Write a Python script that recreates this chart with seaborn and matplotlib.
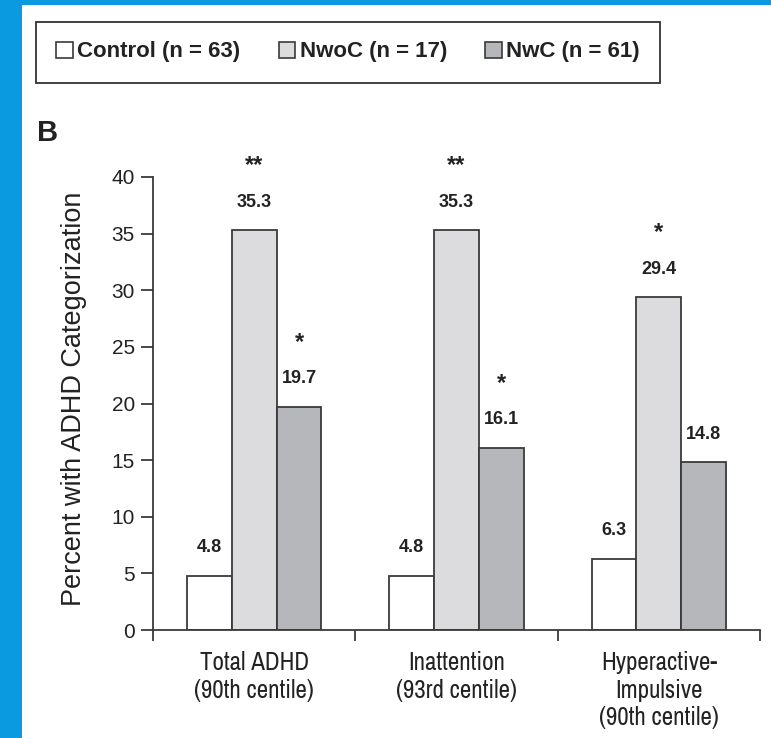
import numpy as np
import pandas as pd
import matplotlib
matplotlib.use('Agg')
import matplotlib.pyplot as plt
import seaborn as sns
from matplotlib.patches import Patch, Rectangle

categories = ['Total ADHD\n(90th centile)', 'Inattention\n(93rd centile)',
              'Hyperactive-\nImpulsive\n(90th centile)']
groups = ['Control (n = 63)', 'NwoC (n = 17)', 'NwC (n = 61)']
control = [4.8, 4.8, 6.3]
nwoc = [35.3, 35.3, 29.4]
nwc = [19.7, 16.1, 14.8]
stars_control = ['', '', '']
stars_nwoc = ['**', '**', '*']
stars_nwc = ['*', '*', '']
yticks = [0, 5, 10, 15, 20, 25, 30, 35, 40]

colors = ['#ffffff', '#dcdcdf', '#b6b7ba']
edge = '#3a3a3a'
ink = '#222222'

df = pd.DataFrame({
    'category': categories * 3,
    'group': [groups[0]] * 3 + [groups[1]] * 3 + [groups[2]] * 3,
    'value': control + nwoc + nwc,
})

sns.set_theme(style='ticks')
narrow = ['Archivo Narrow', 'Liberation Sans', 'DejaVu Sans']
plt.rcParams['font.family'] = ['Liberation Sans', 'DejaVu Sans']

fig = plt.figure(figsize=(7.71, 7.38), dpi=100)
fig.patch.set_facecolor('#0a9ae0')
# white page inside the blue frame
fig.patches.append(Rectangle((22 / 771, 0), 1, 1 - 5 / 738, transform=fig.transFigure,
                             facecolor='white', edgecolor='none', zorder=-1))

ax = fig.add_axes([153 / 771, 1 - 630 / 738, (760 - 153) / 771, (630 - 177) / 738])
ax.set_facecolor('white')

sns.barplot(data=df, x='category', y='value', hue='group', palette=colors,
            saturation=1, width=0.665, gap=0, edgecolor=edge, linewidth=1.3,
            legend=False, ax=ax)

# values and significance stars above the bars
for cont, labs in zip(ax.containers, [stars_control, stars_nwoc, stars_nwc]):
    ax.bar_label(cont, fmt='%.1f', padding=14, fontsize=13, fontweight='bold',
                 color=ink)
    ax.bar_label(cont, labels=labs, padding=38, fontsize=17, fontweight='bold',
                 color=ink)

ax.set_ylim(0, 40)
ax.set_xlim(-0.5, 2.5)
ax.set_yticks(yticks)
ax.set_yticklabels([str(t) for t in yticks], fontsize=15, color=ink)
ax.set_xticks(range(3))
ax.set_xticklabels(categories, fontsize=18, family=narrow, color=ink, linespacing=1.25)
ax.set_xticks([-0.5, 0.5, 1.5, 2.5], minor=True)
ax.tick_params(axis='x', which='major', length=0, pad=15)
ax.tick_params(axis='x', which='minor', length=8, width=1.3, color=edge, direction='out')
ax.tick_params(axis='y', length=9, width=1.3, color=edge, direction='out', pad=4)
ax.set_xlabel('')
ax.set_ylabel('Percent with ADHD Categorization', fontsize=19.5, color=ink)
ax.yaxis.set_label_coords(-(153 - 87) / 607, 0.51)
for s in ['top', 'right']:
    ax.spines[s].set_visible(False)
for s in ['left', 'bottom']:
    ax.spines[s].set_color(edge)
    ax.spines[s].set_linewidth(1.3)

fig.text(37 / 771, 1 - 133 / 738, 'B', fontsize=21, fontweight='bold', color=ink,
         ha='left', va='center')

handles = [Patch(facecolor=c, edgecolor=edge, linewidth=1.2) for c in colors]
leg = fig.legend(handles, groups, loc='center', ncol=3, mode='expand',
                 bbox_to_anchor=(36 / 771, 1 - 82 / 738, 624 / 771, 60 / 738),
                 frameon=True, fancybox=False, edgecolor='#333333', framealpha=1,
                 handlelength=0.75, handleheight=0.75, handletextpad=0.2,
                 borderpad=0.9, borderaxespad=0,
                 prop={'size': 16, 'weight': 'bold'})
leg.get_frame().set_linewidth(1.3)
for t in leg.get_texts():
    t.set_color(ink)

fig.savefig('out.png', dpi=100, facecolor=fig.get_facecolor())
